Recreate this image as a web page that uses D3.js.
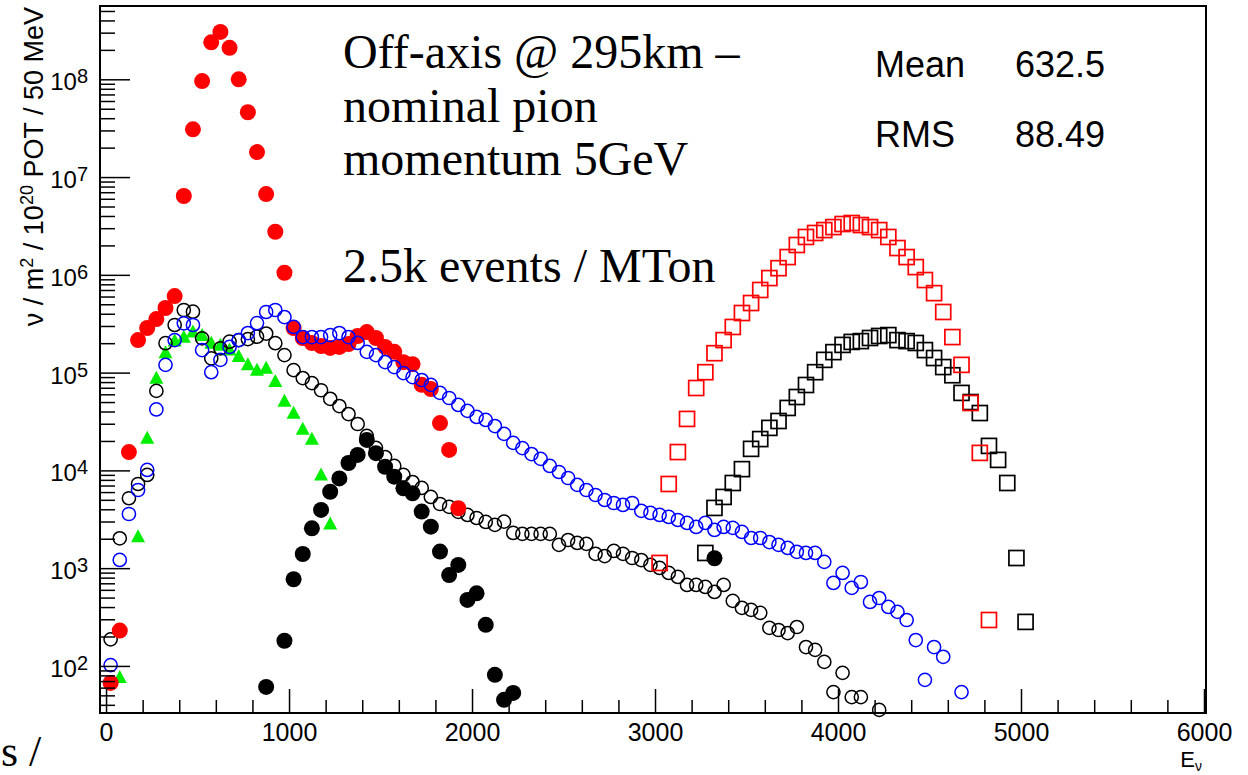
<!DOCTYPE html>
<html>
<head>
<meta charset="utf-8">
<script src="https://cdn.jsdelivr.net/npm/d3@7"></script>
<style>
  body { margin: 0; background: #fff; }
  svg { display: block; }
  text { font-family: "Liberation Sans", Arial, sans-serif; fill: #000; }
  .serif { font-family: "Liberation Serif", "Times New Roman", serif; }
</style>
</head>
<body>
<script>
var WIDTH = 1248;
var HEIGHT = 775;

// energy bins (MeV, bin centres) and fluxes per series
var redDotE = [25,75,125,175,225,275,325,375,425,475,525,575,625,675,725,775,825,875,925,975,
  1025,1075,1125,1175,1225,1275,1325,1375,1425,1475,1525,1575,1625,1675,1725,1775,1825,1875,1925];
var redDotN = [67,230,1.54e4,2.15e5,2.86e5,3.53e5,4.58e5,6.07e5,6.4e6,3.08e7,9.6e7,2.39e8,3.05e8,2.1e8,1.0e8,4.6e7,1.8e7,6.7e6,2.76e6,1.05e6,
  2.86e5,2.26e5,2.01e5,1.87e5,1.79e5,1.83e5,1.96e5,2.37e5,2.6e5,2.26e5,1.83e5,1.63e5,1.28e5,1.22e5,7.5e4,6.8e4,3.05e4,1.62e4,4100];

var greenE = [75,175,225,275,325,375,425,475,525,575,625,675,725,775,825,875,925,975,1025,1075,1125,1175,1225];
var greenN = [76,2100,2.13e4,8.75e4,1.6e5,2.1e5,2.3e5,2.6e5,2.4e5,2.0e5,1.9e5,1.7e5,1.46e5,1.2e5,1.06e5,1.11e5,8.1e4,5.1e4,3.84e4,2.63e4,2.08e4,8980,2830];

var blackDotE = [875,975,1025,1075,1125,1175,1225,1275,1325,1375,1425,1475,1525,1575,1625,1675,1725,1775,1825,1875,1925,1975,2025,2075,2125,2175,2225,3325];
var blackDotN = [61,181,770,1396,2557,3937,6050,8280,1.19e4,1.44e4,2.05e4,1.5e4,1.09e4,8630,6560,5830,3790,2655,1476,850,1080,473,553,263,81,45,53,1262];

var blackRingE = [25,75,125,175,225,275,325,375,425,475,525,575,625,675,725,775,825,875,925,975,
  1025,1075,1125,1175,1225,1275,1325,1375,1425,1475,1525,1575,1625,1675,1725,1775,1825,1875,1925,1975,
  2025,2075,2125,2175,2225,2275,2325,2375,2425,2475,2525,2575,2625,2675,2725,2775,2825,2875,2925,2975,
  3025,3075,3125,3175,3225,3275,3325,3375,3425,3475,3525,3575,3625,3675,3725,3775,3825,3875,3925,3975,
  4025,4075,4125,4225];
var blackRingN = [187,2020,5190,7260,8980,6.5e4,2.0e5,3.07e5,4.37e5,4.2e5,2.24e5,1.4e5,1.77e5,2.07e5,2.15e5,2.2e5,2.33e5,2.51e5,2.0e5,1.51e5,
  1.06e5,8.8e4,7.8e4,6.6e4,5.4e4,4.55e4,3.77e4,2.98e4,2.25e4,1.7e4,1.37e4,1.11e4,8980,7600,6610,5350,4530,4230,3760,3500,
  3260,2970,2770,2990,2290,2240,2240,2240,2240,1730,1940,1810,1770,1400,1330,1500,1400,1270,1210,1080,
  1005,893,813,673,673,642,571,673,463,392,374,349,245,233,217,250,156,146,110,54,
  85,48,48,35.5];

var blueRingE = [25,75,125,175,225,275,325,375,425,475,525,575,625,675,725,775,825,875,925,975,
  1025,1075,1125,1175,1225,1275,1325,1375,1425,1475,1525,1575,1625,1675,1725,1775,1825,1875,1925,1975,
  2025,2075,2125,2175,2225,2275,2325,2375,2425,2475,2525,2575,2625,2675,2725,2775,2825,2875,2925,2975,
  3025,3075,3125,3175,3225,3275,3325,3375,3425,3475,3525,3575,3625,3675,3725,3775,3825,3875,3925,3975,
  4025,4075,4125,4175,4225,4275,4325,4375,4425,4475,4525,4575,4675];
var blueRingN = [102,1213,3580,6300,1.01e4,4.2e4,1.2e5,2.15e5,3.19e5,3.07e5,1.7e5,1.01e5,1.35e5,1.83e5,2.15e5,2.54e5,3.21e5,4.17e5,4.37e5,3.7e5,
  2.93e5,2.31e5,2.31e5,2.31e5,2.42e5,2.54e5,2.31e5,2.01e5,1.63e5,1.51e5,1.28e5,1.14e5,9.9e4,9.0e4,8.4e4,7.5e4,6.2e4,5.5e4,4.67e4,4.06e4,
  3.52e4,3.28e4,2.84e4,2.36e4,1.91e4,1.69e4,1.47e4,1.31e4,1.11e4,9630,8360,7100,6300,5600,4980,4640,4430,4640,3850,3670,
  3500,3340,3110,2900,2640,2900,2460,2640,2580,2345,2035,2035,1850,1730,1610,1470,1430,1430,1160,706,
  893,628,722,451,495,401,357,295,184,72,156,124,54];

var redBoxE = [3025,3075,3125,3175,3225,3275,3325,3375,3425,3475,3525,3575,3625,3675,3725,3775,3825,3875,3925,3975,
  4025,4075,4125,4175,4225,4275,4325,4375,4425,4475,4525,4575,4625,4675,4725,4775,4825];
var redBoxN = [1130,7260,1.54e4,3.36e4,6.96e4,1.01e5,1.58e5,2.15e5,2.93e5,4.07e5,5.15e5,7.0e5,9.27e5,1.17e6,1.52e6,2.02e6,2.44e6,2.68e6,2.87e6,3.08e6,
  3.31e6,3.39e6,3.23e6,3.08e6,2.87e6,2.44e6,1.88e6,1.52e6,1.2e6,8.85e5,6.5e5,4.17e5,2.31e5,1.2e5,4.89e4,1.51e4,295];

var blackBoxE = [3275,3325,3375,3425,3475,3525,3575,3625,3675,3725,3775,3825,3875,3925,3975,
  4025,4075,4125,4175,4225,4275,4325,4375,4425,4475,4525,4575,4625,4675,4725,4775,4825,4875,4925,4975,5025];
var blackBoxN = [1430,4130,5350,7430,1.03e4,1.66e4,2.09e4,2.72e4,3.2e4,4.35e4,5.63e4,7.47e4,1.01e5,1.35e5,1.62e5,
  1.92e5,2.06e5,2.1e5,2.26e5,2.37e5,2.42e5,2.15e5,2.1e5,2.01e5,1.7e5,1.41e5,1.14e5,9.4e4,6.2e4,5.0e4,3.86e4,1.78e4,1.28e4,7430,1270,282];

var xMajor = [0,1000,2000,3000,4000,5000,6000];
var yDecades = [2,3,4,5,6,7,8];
var noteLines = ["Off-axis @ 295km \u2013", "nominal pion", "momentum 5GeV", "", "2.5k events / MTon"];
var statNames = ["Mean", "RMS"];
var statValues = ["632.5", "88.49"];

var X0 = 100, X1 = 1206, Y0 = 6, Y1 = 713;

var x = d3.scaleLinear().domain([-33, 6011]).range([X0, X1]);
var y = d3.scaleLog().domain([33, 5.62e8]).range([Y1, Y0]);

var svg = d3.select("body")
  .append("svg")
  .attr("width", WIDTH)
  .attr("height", HEIGHT);

svg.append("rect").attr("width", WIDTH).attr("height", HEIGHT).attr("fill", "#fff");

function pairs(E, N) {
  return E.map(function (e, i) { return { e: e, n: N[i] }; });
}

// ---- marks ----
var plot = svg.append("g");

function rings(E, N, color) {
  plot.append("g").selectAll("circle")
    .data(pairs(E, N))
    .enter().append("circle")
    .attr("cx", function (d) { return x(d.e); })
    .attr("cy", function (d) { return y(d.n); })
    .attr("r", 6.6)
    .attr("fill", "none")
    .attr("stroke", color)
    .attr("stroke-width", 1.5);
}

function dots(E, N, color) {
  plot.append("g").selectAll("circle")
    .data(pairs(E, N))
    .enter().append("circle")
    .attr("cx", function (d) { return x(d.e); })
    .attr("cy", function (d) { return y(d.n); })
    .attr("r", 8)
    .attr("fill", color);
}

function boxes(E, N, color) {
  plot.append("g").selectAll("rect")
    .data(pairs(E, N))
    .enter().append("rect")
    .attr("x", function (d) { return x(d.e) - 7.5; })
    .attr("y", function (d) { return y(d.n) - 7.5; })
    .attr("width", 15)
    .attr("height", 15)
    .attr("fill", "none")
    .attr("stroke", color)
    .attr("stroke-width", 1.7);
}

plot.append("g").selectAll("path")
  .data(pairs(greenE, greenN))
  .enter().append("path")
  .attr("d", "M0,-7.5L7,5.5L-7,5.5Z")
  .attr("transform", function (d) { return "translate(" + x(d.e) + "," + y(d.n) + ")"; })
  .attr("fill", "#00ee00");

dots(blackDotE, blackDotN, "#000");
rings(blackRingE, blackRingN, "#000");
dots(redDotE, redDotN, "#ff0000");
rings(blueRingE, blueRingN, "#0000ff");
boxes(blackBoxE, blackBoxN, "#000");
boxes(redBoxE, redBoxN, "#ff0000");

// ---- axes ----
var xMinor = d3.range(0, 6001, 200).filter(function (v) { return v % 1000 !== 0; });

svg.append("g")
  .attr("transform", "translate(0," + Y1 + ")")
  .call(d3.axisBottom(x).tickValues(xMinor).tickSize(-13).tickFormat(""))
  .call(function (g) { g.select(".domain").remove(); })
  .selectAll("line").attr("stroke", "#000").attr("stroke-width", 1.5);

var xa = svg.append("g")
  .attr("transform", "translate(0," + Y1 + ")")
  .call(d3.axisBottom(x).tickValues(xMajor).tickSize(-24).tickPadding(10).tickFormat(d3.format("d")));
xa.select(".domain").remove();
xa.selectAll("line").attr("stroke", "#000").attr("stroke-width", 1.5);
xa.selectAll("text").attr("font-size", 25).attr("font-family", "Liberation Sans, Arial, sans-serif").attr("fill", "#000");

var yMinor = [];
for (var e = 1; e <= 8; e++) {
  for (var m = 2; m <= 9; m++) {
    var v = m * Math.pow(10, e);
    if (v > 33 && v < 5.62e8) yMinor.push(v);
  }
}

svg.append("g")
  .attr("transform", "translate(" + X0 + ",0)")
  .call(d3.axisLeft(y).tickValues(yMinor).tickSize(-15).tickFormat(""))
  .call(function (g) { g.select(".domain").remove(); })
  .selectAll("line").attr("stroke", "#000").attr("stroke-width", 1.5);

svg.append("g")
  .attr("transform", "translate(" + X0 + ",0)")
  .call(d3.axisLeft(y).tickValues(yDecades.map(function (k) { return Math.pow(10, k); })).tickSize(-30).tickFormat(""))
  .call(function (g) { g.select(".domain").remove(); })
  .selectAll("line").attr("stroke", "#000").attr("stroke-width", 1.5);

var ylab = svg.append("g").selectAll("text")
  .data(yDecades)
  .enter().append("text")
  .attr("x", 88)
  .attr("y", function (k) { return y(Math.pow(10, k)) + 11; })
  .attr("text-anchor", "end")
  .attr("font-size", 24);
ylab.append("tspan").text("10");
ylab.append("tspan").attr("dy", -7).attr("font-size", 20).text(function (k) { return k; });

// frame
svg.append("rect")
  .attr("x", X0).attr("y", Y0)
  .attr("width", X1 - X0).attr("height", Y1 - Y0)
  .attr("fill", "none").attr("stroke", "#000").attr("stroke-width", 2);

// axis titles
var yt = svg.append("text")
  .attr("transform", "translate(43," + (Y0 + 1) + ") rotate(-90)")
  .attr("text-anchor", "end")
  .attr("font-size", 27);
yt.append("tspan").text("\u03bd / m");
yt.append("tspan").attr("dy", -10).attr("font-size", 18).text("2");
yt.append("tspan").attr("dy", 10).text(" / 10");
yt.append("tspan").attr("dy", -10).attr("font-size", 18).text("20");
yt.append("tspan").attr("dy", 10).text(" POT / 50 MeV");

var xt = svg.append("text")
  .attr("x", 1202).attr("y", 767)
  .attr("text-anchor", "end")
  .attr("font-size", 22);
xt.append("tspan").text("E");
xt.append("tspan").attr("dy", 4).attr("font-size", 14).text("\u03bd");

// annotation text
svg.append("g").selectAll("text")
  .data(noteLines)
  .enter().append("text")
  .attr("class", "serif")
  .attr("x", 343)
  .attr("y", function (d, i) { return 68 + i * 53.5; })
  .attr("font-size", 48)
  .text(function (d) { return d; });

svg.append("text")
  .attr("class", "serif")
  .attr("x", 1).attr("y", 766)
  .attr("font-size", 44)
  .text("s /");

// stats box
statNames.forEach(function (s, i) {
  svg.append("text").attr("x", 875).attr("y", 77 + i * 70).attr("font-size", 36).text(s);
  svg.append("text").attr("x", 1015).attr("y", 77 + i * 70).attr("font-size", 36).text(statValues[i]);
});
</script>
</body>
</html>
